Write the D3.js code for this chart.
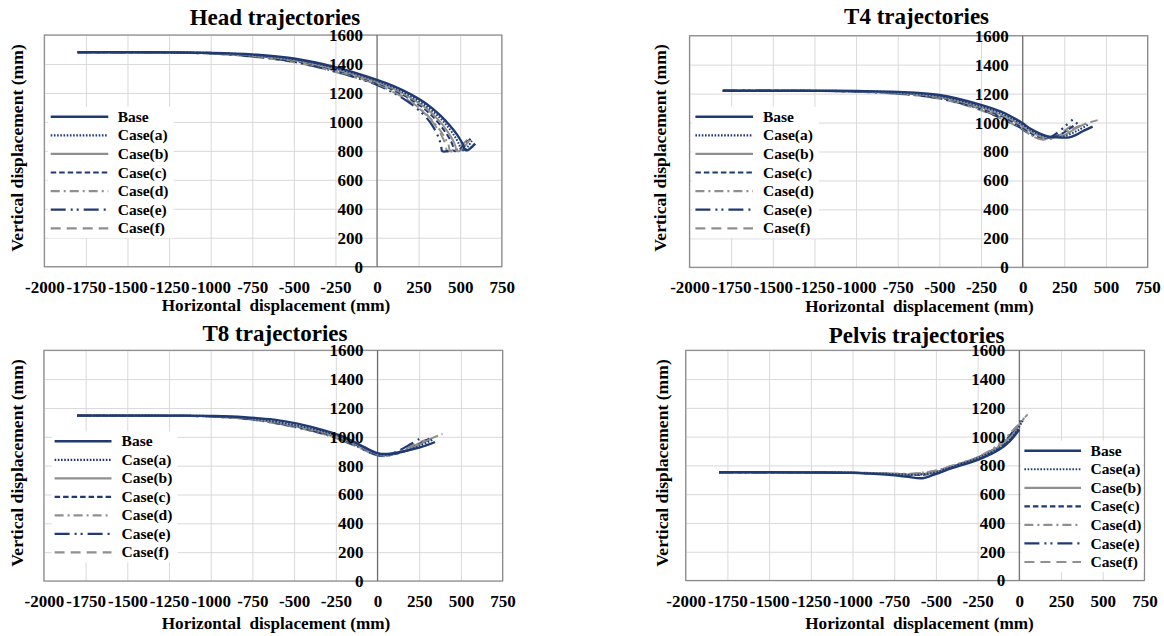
<!DOCTYPE html>
<html><head><meta charset="utf-8">
<script src="https://cdn.jsdelivr.net/npm/d3@7"></script>
<style>
html,body{margin:0;padding:0;background:#fff;}
svg{display:block;font-family:"Liberation Serif","Times New Roman",serif;font-weight:bold;}
</style></head>
<body><svg id="c" width="1164" height="636"></svg>
<script>
// ---------- data ----------
const seriesNames = ["Base","Case(a)","Case(b)","Case(c)","Case(d)","Case(e)","Case(f)"];
const xTicks = [-2000,-1750,-1500,-1250,-1000,-750,-500,-250,0,250,500,750];
const yTicks = [0,200,400,600,800,1000,1200,1400,1600];
const panelTitles = ["Head trajectories","T4 trajectories","T8 trajectories","Pelvis trajectories"];
const xTitle = "Horizontal  displacement (mm)";
const yTitle = "Vertical displacement (mm)";

// Head
const headBase = [[-1800,1481],[-1500,1481],[-1250,1480],[-1000,1477],[-750,1466],[-500,1438],[-250,1378],[0,1290],[100,1247],[200,1192],[300,1122],[380,1045],[440,972],[480,914],[505,868],[520,835],[527,808],[545,805],[568,825],[590,850]];
const headA = [[-1800,1481],[-1300,1480],[-1000,1476],[-750,1463],[-500,1433],[-250,1372],[0,1283],[100,1238],[200,1180],[300,1105],[380,1025],[440,945],[475,885],[495,840],[503,810],[525,805],[550,835],[570,870]];
const headB = [[-1800,1481],[-1300,1480],[-1000,1475],[-750,1460],[-500,1428],[-250,1365],[0,1275],[100,1228],[200,1168],[300,1090],[370,1012],[420,940],[455,875],[472,830],[478,800],[500,800],[530,835],[555,875]];
const headC = [[-1800,1481],[-1300,1480],[-1000,1474],[-750,1457],[-500,1424],[-250,1360],[0,1270],[100,1220],[200,1158],[300,1075],[360,1005],[410,930],[445,865],[460,820],[465,798],[490,805],[530,850],[565,885]];
const headD = [[-1800,1481],[-1300,1479],[-1000,1473],[-750,1455],[-500,1420],[-250,1353],[0,1262],[100,1210],[200,1143],[290,1060],[350,985],[400,905],[430,840],[440,798],[470,805],[520,850],[555,895]];
const headE = [[-1800,1481],[-1300,1479],[-1000,1472],[-750,1452],[-500,1415],[-250,1348],[0,1255],[100,1200],[200,1128],[280,1050],[330,980],[365,905],[385,840],[392,798],[430,800]];
const headF = [[-1800,1481],[-1300,1479],[-1000,1471],[-750,1450],[-500,1412],[-250,1345],[0,1258],[100,1205],[200,1138],[290,1055],[350,975],[395,890],[415,830],[420,798],[455,805],[480,830]];

// T4
const t4Base = [[-1800,1220],[-1500,1220],[-1250,1220],[-1000,1218],[-750,1212],[-500,1190],[-250,1122],[-130,1075],[-50,1030],[0,995],[50,955],[100,925],[150,905],[200,898],[280,898],[320,915],[360,940],[420,972]];
const t4A = [[-1800,1220],[-1300,1220],[-1000,1217],[-750,1208],[-500,1183],[-250,1112],[-100,1050],[0,985],[60,940],[120,910],[180,900],[250,905],[330,945],[400,990]];
const t4B = [[-1800,1220],[-1300,1220],[-1000,1216],[-750,1206],[-500,1178],[-250,1105],[-100,1040],[0,975],[60,930],[120,900],[180,898],[240,910],[320,960],[380,995]];
const t4C = [[-1800,1220],[-1300,1219],[-1000,1215],[-750,1204],[-500,1175],[-250,1100],[-100,1030],[0,965],[60,920],[130,895],[190,900],[260,940],[330,1000]];
const t4D = [[-1800,1220],[-1300,1219],[-1000,1214],[-750,1202],[-500,1170],[-250,1092],[-100,1020],[0,958],[60,910],[120,885],[180,890],[250,930],[350,980],[450,1017]];
const t4E = [[-1800,1220],[-1300,1219],[-1000,1214],[-750,1200],[-500,1168],[-250,1090],[-100,1015],[0,955],[60,910],[120,888],[170,900],[220,940],[270,990],[300,1020]];
const t4F = [[-1800,1220],[-1300,1219],[-1000,1213],[-750,1198],[-500,1165],[-250,1085],[-100,1012],[0,950],[60,905],[120,882],[180,892],[240,935],[290,975]];

// T8
const t8Base = [[-1800,1147],[-1500,1147],[-1250,1147],[-1000,1145],[-880,1141],[-620,1119],[-480,1091],[-320,1044],[-200,998],[-80,928],[0,887],[60,881],[160,900],[260,928],[345,964]];
const t8A = [[-1800,1147],[-1300,1147],[-1000,1144],[-750,1128],[-500,1082],[-300,1030],[-150,968],[0,885],[60,876],[150,895],[250,935],[330,980]];
const t8B = [[-1800,1147],[-1300,1147],[-1000,1143],[-750,1125],[-500,1078],[-300,1024],[-150,960],[0,880],[60,874],[150,896],[250,945],[320,985]];
const t8C = [[-1800,1147],[-1300,1146],[-1000,1142],[-750,1123],[-500,1075],[-300,1020],[-150,955],[0,878],[70,872],[160,900],[250,950],[310,988]];
const t8D = [[-1800,1147],[-1300,1146],[-1000,1142],[-750,1121],[-500,1072],[-300,1015],[-150,950],[0,875],[60,870],[150,905],[270,965],[390,1020]];
const t8E = [[-1800,1147],[-1300,1146],[-1000,1141],[-750,1120],[-500,1070],[-300,1012],[-150,948],[0,872],[50,870],[130,905],[200,950],[250,985]];
const t8F = [[-1800,1147],[-1300,1146],[-1000,1140],[-750,1118],[-500,1068],[-300,1010],[-150,945],[0,870],[60,868],[140,900],[220,945],[290,980]];

// Pelvis
const pelvisBase = [[-1800,752],[-1500,752],[-1250,751],[-1000,748],[-800,736],[-680,722],[-580,711],[-520,732],[-400,783],[-240,842],[-120,910],[-60,965],[0,1050]];
const pelvisA = [[-1800,752],[-1300,751],[-1000,749],[-800,742],[-650,735],[-580,738],[-500,752],[-400,790],[-250,850],[-130,915],[-50,985],[20,1110]];
const pelvisB = [[-1800,752],[-1300,751],[-1000,749],[-800,743],[-650,737],[-560,742],[-480,760],[-380,795],[-250,852],[-130,925],[-50,1000],[10,1100]];
const pelvisC = [[-1800,752],[-1300,751],[-1000,748],[-800,740],[-650,733],[-570,735],[-490,755],[-390,792],[-250,848],[-130,918],[-50,990],[0,1080]];
const pelvisD = [[-1800,752],[-1300,752],[-1000,750],[-800,745],[-650,742],[-580,750],[-500,765],[-400,800],[-250,858],[-130,940],[-50,1030],[50,1155]];
const pelvisE = [[-1800,752],[-1300,751],[-1000,749],[-800,741],[-650,735],[-570,740],[-490,758],[-390,796],[-250,853],[-120,935],[-40,1030],[20,1130]];
const pelvisF = [[-1800,752],[-1300,752],[-1000,750],[-800,744],[-650,740],[-580,748],[-500,763],[-400,798],[-250,855],[-130,930],[-50,1010],[30,1130]];

// ---------- styles & layout ----------
const NAVY = "#1f3a73", GRAY = "#8f8f8f";
const styles = [
  {c:NAVY, w:2.4, d:null},
  {c:NAVY, w:2, d:"1.6,1.6"},
  {c:GRAY, w:2, d:null},
  {c:NAVY, w:2, d:"5.5,3"},
  {c:GRAY, w:2, d:"9,4,2,4"},
  {c:NAVY, w:2.2, d:"15,5,2,4,2,5"},
  {c:GRAY, w:2, d:"10,6"}
];

const panels = [
  {title:panelTitles[0], data:[headBase,headA,headB,headC,headD,headE,headF],
   L:44.3,R:501.8,T:35,B:266.7, tx:275,ty:25, ylx:17,yly:148, xtx:276,xty:305,
   leg:{x1:50.7,x2:108.3,tx:117.7,y0:116.7,dy:18.6}},
  {title:panelTitles[1], data:[t4Base,t4A,t4B,t4C,t4D,t4E,t4F],
   L:689.5,R:1147.6,T:35.7,B:267.3, tx:916.6,ty:24, ylx:660,yly:148, xtx:919.5,xty:306,
   leg:{x1:695.4,x2:753,tx:763,y0:116.7,dy:18.6}},
  {title:panelTitles[2], data:[t8Base,t8A,t8B,t8C,t8D,t8E,t8F],
   L:43.9,R:502.6,T:350.3,B:581, tx:275,ty:341, ylx:16.7,yly:463, xtx:276,xty:623,
   leg:{x1:54.6,x2:111.5,tx:121.6,y0:441.3,dy:18.5}},
  {title:panelTitles[3], data:[pelvisBase,pelvisA,pelvisB,pelvisC,pelvisD,pelvisE,pelvisF],
   L:685.7,R:1144.4,T:350.3,B:580.5, tx:916.6,ty:343, ylx:662,yly:463, xtx:919.5,xty:623,
   leg:{x1:1024.4,x2:1081,tx:1090.6,y0:450.7,dy:18.55}}
];

const svg = d3.select("#c");
svg.append("rect").attr("width",1164).attr("height",636).attr("fill","#fff");

panels.forEach(p => {
  const x = d3.scaleLinear().domain([xTicks[0], xTicks[xTicks.length-1]]).range([p.L, p.R]);
  const y = d3.scaleLinear().domain([yTicks[0], yTicks[yTicks.length-1]]).range([p.B, p.T]);
  const g = svg.append("g");

  // gridlines
  const gx = g.append("g").attr("transform",`translate(0,${p.B})`)
    .call(d3.axisBottom(x).tickValues(xTicks).tickSize(-(p.B-p.T)).tickFormat(""));
  gx.select(".domain").remove();
  gx.selectAll("line").attr("stroke","#d9d9d9").attr("stroke-width",1);
  const gy = g.append("g").attr("transform",`translate(${p.L},0)`)
    .call(d3.axisLeft(y).tickValues(yTicks).tickSize(-(p.R-p.L)).tickFormat(""));
  gy.select(".domain").remove();
  gy.selectAll("line").attr("stroke","#d9d9d9").attr("stroke-width",1);

  // frame
  g.append("rect").attr("x",p.L).attr("y",p.T).attr("width",p.R-p.L).attr("height",p.B-p.T)
    .attr("fill","none").attr("stroke","#8a8a8a").attr("stroke-width",1.2);
  // vertical axis at x = 0
  g.append("line").attr("x1",x(0)).attr("x2",x(0)).attr("y1",p.T).attr("y2",p.B)
    .attr("stroke","#6e6e6e").attr("stroke-width",1.2);

  // series (cases first, base on top)
  const line = d3.line().x(d=>x(d[0])).y(d=>y(d[1])).curve(d3.curveCatmullRom.alpha(0.5));
  const order = [6,5,4,3,2,1,0];
  order.forEach(i => {
    const s = styles[i];
    g.append("path").datum(p.data[i]).attr("d",line)
      .attr("fill","none").attr("stroke",s.c).attr("stroke-width",s.w)
      .attr("stroke-dasharray",s.d).attr("stroke-linejoin","round");
  });

  // y tick labels (drawn at x = 0)
  const ya = g.append("g").attr("transform",`translate(${x(0)},0)`)
    .call(d3.axisLeft(y).tickValues(yTicks).tickSize(0).tickPadding(14).tickFormat(d=>String(d)));
  ya.select(".domain").remove();
  ya.selectAll("text").attr("font-size",17).attr("font-family","Liberation Serif").attr("font-weight","bold").attr("fill","#000");

  // x tick labels
  const xa = g.append("g").attr("transform",`translate(0,${p.B})`)
    .call(d3.axisBottom(x).tickValues(xTicks).tickSize(0).tickPadding(14).tickFormat(d=>String(d)));
  xa.select(".domain").remove();
  xa.selectAll("text").attr("font-size",17).attr("font-family","Liberation Serif").attr("font-weight","bold").attr("fill","#000");

  // titles
  g.append("text").attr("x",p.tx).attr("y",p.ty).attr("text-anchor","middle")
    .attr("font-size",23).text(p.title);
  g.append("text").attr("x",p.xtx).attr("y",p.xty).attr("dy","0.33em").attr("text-anchor","middle")
    .attr("font-size",17.2).attr("xml:space","preserve").style("white-space","pre").text(xTitle);
  g.append("text").attr("transform",`translate(${p.ylx},${p.yly}) rotate(-90)`).attr("dy","0.33em")
    .attr("text-anchor","middle").attr("font-size",17.6).text(yTitle);

  // legend
  const lg = p.leg;
  const boxX = lg.x1-3, boxR = Math.min(lg.tx+56, p.R-1);
  g.append("rect").attr("x",boxX).attr("y",lg.y0-10).attr("width",boxR-boxX).attr("height",lg.dy*6+20)
    .attr("fill","#fff");
  seriesNames.forEach((name,i) => {
    const yy = lg.y0 + i*lg.dy, s = styles[i];
    g.append("line").attr("x1",lg.x1).attr("x2",lg.x2).attr("y1",yy).attr("y2",yy)
      .attr("stroke",s.c).attr("stroke-width",i===0?2.6:2.2).attr("stroke-dasharray",s.d);
    g.append("text").attr("x",lg.tx).attr("y",yy).attr("dy","0.33em").attr("font-size",15.5).text(name);
  });
});
</script></body></html>
